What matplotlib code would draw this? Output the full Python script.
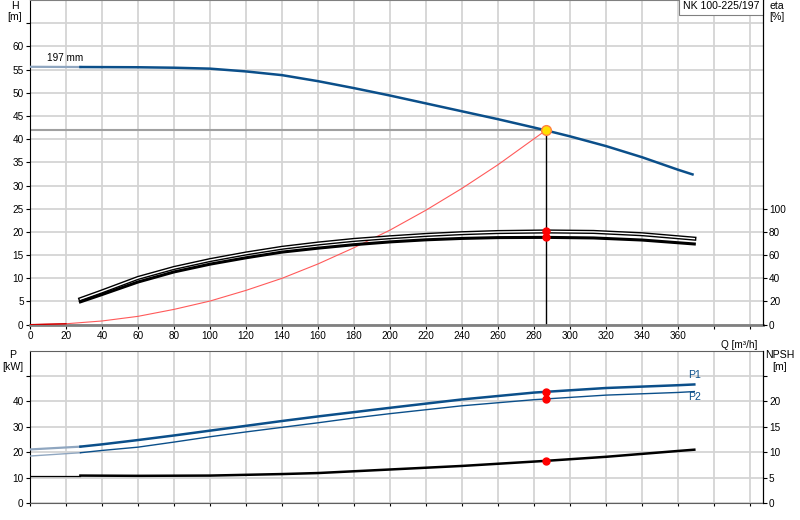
import matplotlib
matplotlib.use("Agg")
import matplotlib.pyplot as plt

plt.rcParams['font.family'] = ['Liberation Sans', 'DejaVu Sans']
plt.rcParams['font.size'] = 7.2

# Head curve, impeller 197 mm (Q in m3/h, H in m)
q_h = [0, 28, 60, 80, 100, 120, 140, 160, 180, 200, 220, 240, 260, 280, 286.5, 300, 320, 340, 360, 368]
h = [55.6, 55.55, 55.5, 55.4, 55.2, 54.6, 53.8, 52.5, 51.0, 49.4, 47.7, 46.0, 44.3, 42.5, 41.9,
     40.6, 38.5, 36.1, 33.4, 32.4]

# Efficiency curves (%)
q_eta = [28, 40, 60, 80, 100, 120, 140, 160, 180, 200, 220, 240, 260, 287, 313, 340, 369]
eta_upper = [22.0, 28.7, 40.3, 48.9, 55.7, 61.4, 66.3, 70.0, 73.1, 75.4, 77.4, 78.9, 79.9, 80.4, 80.0, 78.0, 74.2]
eta_lower = [19.7, 26.0, 36.8, 45.5, 52.2, 57.7, 62.6, 66.0, 69.0, 71.4, 73.2, 74.4, 75.1, 75.3, 74.8, 73.0, 69.6]

# System curve (m)
q_sys = [0, 20, 40, 60, 80, 100, 120, 140, 160, 180, 200, 220, 240, 260, 286.5]
h_sys = [0, 0.2, 0.8, 1.8, 3.3, 5.1, 7.4, 10.0, 13.1, 16.6, 20.4, 24.7, 29.4, 34.5, 41.9]

# Power curves (kW)
q_p = [0, 28, 40, 60, 80, 100, 120, 140, 160, 180, 200, 240, 280, 320, 360, 369]
p1 = [21.1, 22.2, 23.1, 24.8, 26.6, 28.5, 30.4, 32.3, 34.1, 35.8, 37.5, 40.8, 43.5, 45.3, 46.4, 46.7]
p2 = [18.5, 19.8, 20.7, 22.0, 24.0, 26.1, 28.0, 29.8, 31.6, 33.5, 35.2, 38.3, 40.7, 42.5, 43.55, 43.9]

# NPSH curve (m)
q_npsh = [0, 28, 60, 100, 140, 160, 200, 240, 286.5, 320, 360, 369]
npsh = [5.4, 5.4, 5.35, 5.4, 5.7, 5.9, 6.6, 7.3, 8.3, 9.1, 10.25, 10.5]

# Duty point
q_duty = 286.5
h_duty = 41.9
eta_duty = [80.4, 75.3]
p_duty = [43.6, 40.9]
npsh_duty = 8.3

blue = "#0b4f8a"
light_blue = "#8fa6c0"
grid_col = "#d4d4d4"
x_ticks = list(range(0, 401, 20))

fig = plt.figure(figsize=(8, 5.2), dpi=100)
ax = fig.add_axes([0.0375, 0.3756, 0.9159, 0.6244])
ax_eta = ax.twinx()
axp = fig.add_axes([0.0375, 0.0327, 0.9159, 0.2929])
ax_npsh = axp.twinx()

# ---- top panel: H / eta ----
ax.set_xlim(0, 407)
ax.set_ylim(0, 70)
ax_eta.set_ylim(0, 280)
ax.set_xticks(x_ticks)
ax.set_xticklabels([str(v) if v <= 360 else "" for v in x_ticks])
ax.set_yticks(range(0, 70, 5))
ax.set_yticklabels([str(v) if v <= 60 else "" for v in range(0, 70, 5)])
ax_eta.set_yticks(range(0, 101, 20))
ax.grid(True, color=grid_col, lw=1.3)
ax.set_axisbelow(True)

n0 = 2
ax.plot(q_h[:n0], h[:n0], color=light_blue, lw=1.6, zorder=3)
ax.plot(q_h[n0 - 1:], h[n0 - 1:], color=blue, lw=1.8, zorder=3)
ax.plot(q_sys, h_sys, color="#ff5a5a", lw=0.8, zorder=3)
ax.plot(q_sys[:2], h_sys[:2], color="#cc0000", lw=1.0, zorder=3)
ax.plot([0, q_duty], [h_duty, h_duty], color="#a0a0a0", lw=1.5, zorder=2)
ax.plot([q_duty, q_duty], [0, h_duty], color="black", lw=1.0, zorder=2)
ax.text(9.5, 57.5, "197 mm", va="center", ha="left")

ax_eta.plot(q_eta, eta_upper, color="black", lw=3.0, zorder=3)
ax_eta.plot(q_eta, eta_upper, color="white", lw=1.0, zorder=3)
ax_eta.plot(q_eta, eta_lower, color="black", lw=2.2, zorder=3)
ax_eta.plot([q_duty] * 2, eta_duty, "o", color="red", ms=5, zorder=4)
ax_eta.plot([q_duty], [h_duty * 4], "o", ms=7, markerfacecolor="#ffe000",
            markeredgecolor="#ff8040", markeredgewidth=1.0, zorder=5)

ax.text(0.995, 0.997, "NK 100-225/197", transform=ax.transAxes, ha="right", va="top",
        fontsize=7.6, bbox=dict(boxstyle="square,pad=0.35", fc="white", ec="#808080", lw=0.8))
ax.text(394, -3.3, "Q [m³/h]", ha="center", va="top")

for s in ["top", "bottom"]:
    ax.spines[s].set_color("#808080")
    ax_eta.spines[s].set_visible(False)
ax.spines["bottom"].set_linewidth(2)
ax_eta.spines["left"].set_visible(False)
ax.tick_params(length=3, width=0.8, pad=1.5)
ax_eta.tick_params(length=3, width=0.8, pad=1.5)

fig.text(15 / 800, 1 - 6 / 520, "H", ha="center", va="center", fontsize=7.6)
fig.text(15 / 800, 1 - 17 / 520, "[m]", ha="center", va="center", fontsize=7.6)
fig.text(777 / 800, 1 - 6 / 520, "eta", ha="center", va="center", fontsize=7.6)
fig.text(777 / 800, 1 - 17 / 520, "[%]", ha="center", va="center", fontsize=7.6)

# ---- bottom panel: P / NPSH ----
axp.set_xlim(0, 407)
axp.set_ylim(0, 60)
ax_npsh.set_ylim(0, 30)
axp.set_xticks(x_ticks)
axp.set_xticklabels([])
axp.set_yticks(range(0, 60, 10))
axp.set_yticklabels([str(v) if v <= 40 else "" for v in range(0, 60, 10)])
ax_npsh.set_yticks(range(0, 30, 5))
ax_npsh.set_yticklabels([str(v) if v <= 20 else "" for v in range(0, 30, 5)])
axp.grid(True, color=grid_col, lw=1.3)
axp.set_axisbelow(True)

axp.plot(q_p[:n0], p1[:n0], color=light_blue, lw=1.6, zorder=3)
axp.plot(q_p[n0 - 1:], p1[n0 - 1:], color=blue, lw=1.8, zorder=3)
axp.plot(q_p[:n0], p2[:n0], color=light_blue, lw=1.0, zorder=3)
axp.plot(q_p[n0 - 1:], p2[n0 - 1:], color=blue, lw=1.0, zorder=3)
axp.plot([q_duty] * 2, p_duty, "o", color="red", ms=5, zorder=4)
axp.text(369, 50.4, "P1", color=blue, ha="center", va="center", fontsize=7.6)
axp.text(369, 41.7, "P2", color=blue, ha="center", va="center", fontsize=7.6)

ax_npsh.plot(q_npsh[:n0], npsh[:n0], color="black", lw=0.9, zorder=3)
ax_npsh.plot(q_npsh[n0 - 1:], npsh[n0 - 1:], color="black", lw=1.8, zorder=3)
ax_npsh.plot([q_duty], [npsh_duty], "o", color="red", ms=5, zorder=4)

axp.spines["top"].set_color("#606060")
axp.spines["bottom"].set_color("#606060")
ax_npsh.spines["top"].set_visible(False)
ax_npsh.spines["bottom"].set_visible(False)
ax_npsh.spines["left"].set_visible(False)
axp.tick_params(length=3, width=0.8, pad=1.5)
axp.tick_params(axis="x", length=2)
ax_npsh.tick_params(length=3, width=0.8, pad=1.5)

fig.text(13 / 800, 1 - 355 / 520, "P", ha="center", va="center", fontsize=7.6)
fig.text(13 / 800, 1 - 367 / 520, "[kW]", ha="center", va="center", fontsize=7.6)
fig.text(780 / 800, 1 - 355 / 520, "NPSH", ha="center", va="center", fontsize=7.6)
fig.text(780 / 800, 1 - 367 / 520, "[m]", ha="center", va="center", fontsize=7.6)

fig.savefig("out.png", dpi=100)
